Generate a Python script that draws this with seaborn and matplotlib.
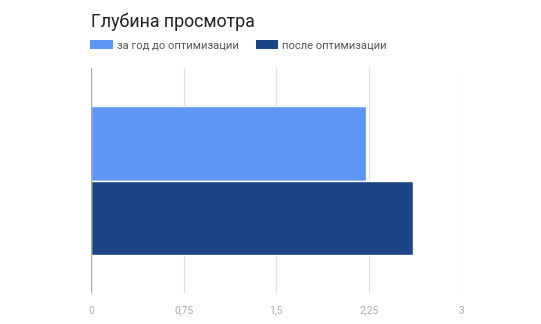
import matplotlib
matplotlib.use("Agg")
import matplotlib.pyplot as plt
import seaborn as sns
import pandas as pd
from matplotlib.patches import Patch

title = "Глубина просмотра"
series = ["за год до оптимизации", "после оптимизации"]
values = [2.23, 2.61]
category = [""]
xticks = [0, 0.75, 1.5, 2.25, 3]
xtick_labels = ["0", "0,75", "1,5", "2,25", "3"]
colors = ["#5d96f5", "#1c4587"]

df = pd.DataFrame({"cat": category * len(series), "series": series, "value": values})

sns.set_theme(style="white")
plt.rcParams["font.family"] = ["Roboto", "DejaVu Sans"]

fig = plt.figure(figsize=(5.41, 3.24), dpi=100)
ax = fig.add_axes([91 / 541, 1 - 293 / 324, (461.5 - 91) / 541, (293 - 68) / 324])

sns.barplot(data=df, y="cat", x="value", hue="series", orient="h",
            palette=colors, width=0.66, ax=ax, legend=False,
            edgecolor="white", linewidth=1, saturation=1)

ax.set_xlim(0, 3)
ax.set_xticks(xticks)
ax.set_xticklabels(xtick_labels, color="#aaaaaa", fontsize=7.3)
ax.tick_params(axis="x", length=0, pad=9)
ax.set_yticks([])
ax.set_xlabel("")
ax.set_ylabel("")
for s in ax.spines.values():
    s.set_visible(False)
for t in xticks[1:]:
    ax.axvline(t, color="#e0e0e0", lw=0.9, zorder=0)
ax.axvline(0, color="#a8a8a8", lw=1, zorder=3)

fig.text(91 / 541, 1 - 22 / 324, title, fontsize=12.8, color="#222222", va="center", ha="left")

handles = [Patch(facecolor=c, edgecolor="none") for c in colors]
fig.legend(handles, series, loc="center left", bbox_to_anchor=(86 / 541, 1 - 45 / 324),
           ncol=2, frameon=False, fontsize=8, handlelength=2.0, handleheight=0.95,
           handletextpad=0.35, columnspacing=1.6, labelcolor="#555555", borderaxespad=0)

fig.savefig("out.png", dpi=100)
